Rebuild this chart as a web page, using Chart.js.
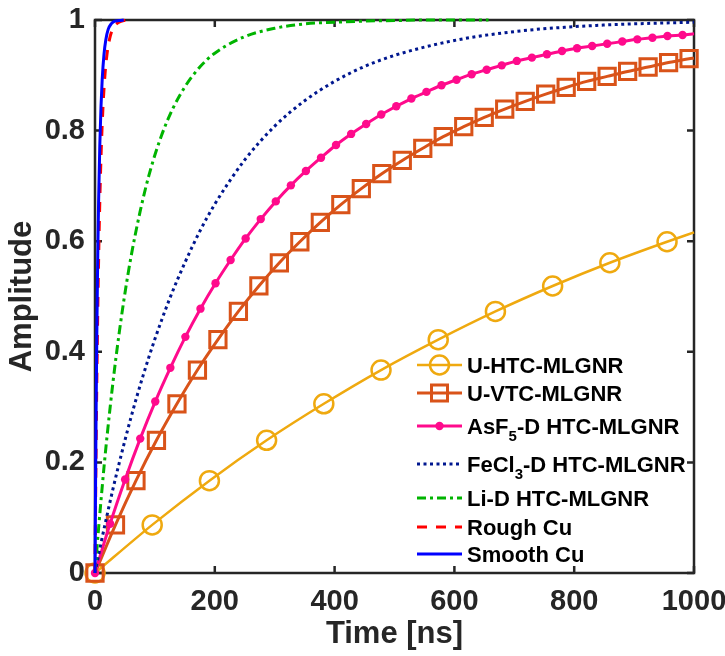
<!DOCTYPE html>
<html>
<head>
<meta charset="utf-8">
<title>Step response amplitude</title>
<script src="https://cdn.jsdelivr.net/npm/chart.js@4.4.1/dist/chart.umd.min.js"></script>
<style>
  html, body { margin: 0; padding: 0; background: #fff; }
  canvas { display: block; }
</style>
</head>
<body>
<canvas id="stepChart" width="725" height="656"></canvas>
<script>
// axis ticks
const xTicks = [0, 200, 400, 600, 800, 1000];
const xTickLabels = ['0', '200', '400', '600', '800', '1000'];
const yTicks = [0, 0.2, 0.4, 0.6, 0.8, 1];
const yTickLabels = ['0', '0.2', '0.4', '0.6', '0.8', '1'];

// U-HTC-MLGNR (circle markers, last point is the line end)
const uhtcTime = [0, 95.5, 191, 286.5, 382, 477.5, 573, 668.5, 764, 859.5, 955, 1000];
const uhtcAmp = [0, 0.087, 0.167, 0.240, 0.306, 0.367, 0.422, 0.473, 0.519, 0.561, 0.599, 0.616];

// U-VTC-MLGNR (square markers)
const uvtcTime = [0, 34.2, 68.4, 102.6, 136.8, 171, 205.2, 239.4, 273.6, 307.8, 342, 376.2, 410.4, 444.6,
  478.8, 513, 547.2, 581.4, 615.6, 649.8, 684, 718.2, 752.4, 786.6, 820.8, 855, 889.2, 923.4, 957.6, 991.8, 1000];
const uvtcAmp = [0, 0.087, 0.167, 0.240, 0.306, 0.367, 0.422, 0.473, 0.519, 0.561, 0.599, 0.634, 0.666, 0.695,
  0.722, 0.746, 0.768, 0.789, 0.807, 0.824, 0.839, 0.853, 0.866, 0.878, 0.889, 0.898, 0.907, 0.915, 0.923, 0.930, 0.931];

// AsF5-D HTC-MLGNR (dot markers)
const asf5Time = [0, 25.2, 50.3, 75.5, 100.6, 125.8, 150.9, 176.1, 201.2, 226.4, 251.5, 276.7, 301.8, 327,
  352.1, 377.3, 402.4, 427.6, 452.7, 477.9, 503, 528.2, 553.3, 578.5, 603.6, 628.8, 653.9, 679.1, 704.2,
  729.4, 754.5, 779.7, 804.8, 830, 855.1, 880.3, 905.4, 930.6, 955.7, 980.9, 1000];
const asf5Amp = [0, 0.089, 0.169, 0.243, 0.310, 0.371, 0.427, 0.478, 0.524, 0.566, 0.605, 0.640, 0.672, 0.701,
  0.727, 0.751, 0.774, 0.794, 0.812, 0.829, 0.844, 0.858, 0.870, 0.882, 0.892, 0.902, 0.910, 0.918, 0.926,
  0.932, 0.938, 0.944, 0.949, 0.953, 0.957, 0.961, 0.965, 0.968, 0.971, 0.973, 0.975];

// FeCl3-D HTC-MLGNR
const fecl3Time = [0, 5, 10, 20, 30, 40, 60, 80, 100, 125, 150, 175, 200, 250, 300, 350, 400, 450, 500, 600, 700, 800, 900, 1000];
const fecl3Amp = [0, 0.027, 0.054, 0.104, 0.152, 0.197, 0.281, 0.356, 0.423, 0.497, 0.561, 0.618, 0.667, 0.747,
  0.808, 0.854, 0.889, 0.916, 0.936, 0.963, 0.979, 0.988, 0.993, 0.996];

// Li-D HTC-MLGNR
const liTime = [0, 3, 6, 10, 15, 20, 30, 40, 50, 60, 75, 90, 110, 130, 150, 175, 200, 250, 300, 350, 400, 450, 500, 550, 600, 657];
const liAmp = [0, 0.041, 0.081, 0.131, 0.191, 0.246, 0.345, 0.431, 0.506, 0.571, 0.652, 0.719, 0.788, 0.840,
  0.879, 0.915, 0.940, 0.970, 0.985, 0.993, 0.996, 0.998, 0.999, 1.0, 1.0, 1.0];

// Rough Cu
const roughTime = [0, 1, 2, 3, 4, 5, 6, 8, 10, 12, 14, 17, 20, 24, 28, 33, 40, 48, 56, 63];
const roughAmp = [0, 0.130, 0.243, 0.341, 0.426, 0.501, 0.565, 0.671, 0.751, 0.811, 0.857, 0.906, 0.938, 0.964,
  0.980, 0.990, 0.996, 0.999, 1.0, 1.0];

// Smooth Cu
const smoothTime = [0, 1, 2, 3, 4, 5, 6, 8, 10, 12, 15, 18, 22, 27, 33, 40, 48];
const smoothAmp = [0, 0.169, 0.310, 0.426, 0.523, 0.604, 0.671, 0.773, 0.843, 0.892, 0.938, 0.964, 0.983,
  0.993, 0.998, 0.999, 1.0];

const FONT = '"Liberation Sans", Arial, Helvetica, sans-serif';
const AXIS_COLOR = '#262626';

function series(times, amps) {
  return times.map((t, i) => ({ x: t, y: amps[i] }));
}

// markers on every point except the final line end
function markerRadius(times, r) {
  return ctx => (ctx.dataIndex === times.length - 1 ? 0 : r);
}

// fixed axis box so the plot area stays put
function pinAxis(size, horizontal) {
  return s => {
    if (horizontal) s.height = size; else s.width = size;
    s.paddingLeft = s.paddingRight = s.paddingTop = s.paddingBottom = 0;
  };
}

Chart.defaults.font.family = FONT;
Chart.defaults.font.weight = 'bold';
Chart.defaults.color = AXIS_COLOR;

const common = {
  fill: false,
  clip: false,
  cubicInterpolationMode: 'monotone',
  pointHoverRadius: 0,
  borderCapStyle: 'butt'
};

const datasets = [
  {
    ...common, label: 'U-HTC-MLGNR', data: series(uhtcTime, uhtcAmp), order: 7,
    borderColor: '#EFA90F', borderWidth: 2.5,
    pointStyle: 'circle', pointRadius: markerRadius(uhtcTime, 9.5), pointBorderWidth: 2.5,
    pointBorderColor: '#EFA90F', pointBackgroundColor: 'rgba(0,0,0,0)',
    mark: { style: 'circle', r: 9.5, w: 2.5 }
  },
  {
    ...common, label: 'U-VTC-MLGNR', data: series(uvtcTime, uvtcAmp), order: 6,
    borderColor: '#D95319', borderWidth: 3,
    pointStyle: 'rect', pointRadius: markerRadius(uvtcTime, 11.5), pointBorderWidth: 3,
    pointBorderColor: '#D95319', pointBackgroundColor: 'rgba(0,0,0,0)',
    mark: { style: 'rect', r: 8, w: 3 }
  },
  {
    ...common, label: 'AsF₅-D HTC-MLGNR', data: series(asf5Time, asf5Amp), order: 5,
    borderColor: '#FF0A8C', borderWidth: 3,
    pointStyle: 'circle', pointRadius: markerRadius(asf5Time, 4.2), pointBorderWidth: 0,
    pointBackgroundColor: '#FF0A8C',
    mark: { style: 'dot', r: 4.2 }
  },
  {
    ...common, label: 'FeCl₃-D HTC-MLGNR', data: series(fecl3Time, fecl3Amp), order: 4,
    borderColor: '#00178F', borderWidth: 3, borderDash: [3, 3.5], pointRadius: 0
  },
  {
    ...common, label: 'Li-D HTC-MLGNR', data: series(liTime, liAmp), order: 3,
    borderColor: '#00B400', borderWidth: 3, borderDash: [9, 4, 3, 4], pointRadius: 0
  },
  {
    ...common, label: 'Rough Cu', data: series(roughTime, roughAmp), order: 2,
    borderColor: '#FF0000', borderWidth: 3, borderDash: [10, 9], pointRadius: 0
  },
  {
    ...common, label: 'Smooth Cu', data: series(smoothTime, smoothAmp), order: 1,
    borderColor: '#0000FF', borderWidth: 3, pointRadius: 0
  }
];

// text with unicode subscript digits drawn as lowered small digits
const SUBS = '₀₁₂₃₄₅₆₇₈₉';
function drawRichLabel(ctx, text, x, baseline) {
  const runs = [];
  for (const ch of text) {
    const s = SUBS.indexOf(ch);
    const sub = s >= 0;
    const c = sub ? String(s) : ch;
    if (runs.length && runs[runs.length - 1].sub === sub) runs[runs.length - 1].text += c;
    else runs.push({ sub, text: c });
  }
  let cx = x;
  runs.forEach(r => {
    ctx.font = r.sub ? `bold 15px ${FONT}` : `bold 22px ${FONT}`;
    ctx.fillText(r.text, cx, r.sub ? baseline + 7 : baseline);
    cx += ctx.measureText(r.text).width;
  });
}

const legendRows = [365, 393, 426, 464, 498, 527, 554];

const framePlugin = {
  id: 'framePlugin',
  // box and inward ticks on all four sides, under the data
  beforeDatasetsDraw(chart) {
    const { ctx, chartArea: a, scales: { x, y } } = chart;
    const len = 7;
    ctx.save();
    ctx.strokeStyle = AXIS_COLOR;
    ctx.lineWidth = 2.5;
    ctx.setLineDash([]);
    ctx.strokeRect(a.left, a.top, a.right - a.left, a.bottom - a.top);
    ctx.beginPath();
    xTicks.forEach(v => {
      const px = x.getPixelForValue(v);
      ctx.moveTo(px, a.bottom); ctx.lineTo(px, a.bottom - len);
      ctx.moveTo(px, a.top); ctx.lineTo(px, a.top + len);
    });
    yTicks.forEach(v => {
      const py = y.getPixelForValue(v);
      ctx.moveTo(a.left, py); ctx.lineTo(a.left + len, py);
      ctx.moveTo(a.right, py); ctx.lineTo(a.right - len, py);
    });
    ctx.stroke();
    ctx.restore();
  },
  // legend inside the plot, no box
  afterDatasetsDraw(chart) {
    const { ctx } = chart;
    const x0 = 417, x1 = 462, tx = 467;
    ctx.save();
    chart.data.datasets.forEach((ds, i) => {
      const yy = legendRows[i];
      ctx.strokeStyle = ds.borderColor;
      ctx.lineWidth = ds.borderWidth;
      ctx.setLineDash(ds.borderDash || []);
      ctx.beginPath();
      ctx.moveTo(x0, yy); ctx.lineTo(x1, yy);
      ctx.stroke();
      ctx.setLineDash([]);
      const m = ds.mark;
      const cx = (x0 + x1) / 2;
      if (m) {
        ctx.beginPath();
        if (m.style === 'circle') {
          ctx.lineWidth = m.w;
          ctx.arc(cx, yy, m.r, 0, Math.PI * 2);
          ctx.stroke();
        } else if (m.style === 'rect') {
          ctx.lineWidth = m.w;
          ctx.rect(cx - m.r, yy - m.r, m.r * 2, m.r * 2);
          ctx.stroke();
        } else {
          ctx.fillStyle = ds.borderColor;
          ctx.arc(cx, yy, m.r, 0, Math.PI * 2);
          ctx.fill();
        }
      }
      ctx.fillStyle = '#000';
      ctx.textBaseline = 'alphabetic';
      ctx.textAlign = 'left';
      drawRichLabel(ctx, ds.label, tx, yy + 8);
    });
    ctx.restore();
  }
};

new Chart(document.getElementById('stepChart'), {
  type: 'line',
  data: { datasets },
  plugins: [framePlugin],
  options: {
    responsive: false,
    animation: false,
    events: [],
    layout: { padding: { top: 20, right: 31, left: 0, bottom: 0 } },
    plugins: { legend: { display: false }, tooltip: { enabled: false } },
    scales: {
      x: {
        type: 'linear', min: 0, max: 1000,
        grid: { display: false },
        border: { display: false },
        afterBuildTicks: s => { s.ticks = xTicks.map(v => ({ value: v })); },
        afterFit: pinAxis(83, true),
        ticks: {
          autoSkip: false, maxRotation: 0, padding: 4,
          font: { size: 29, weight: 'bold' }, color: AXIS_COLOR,
          callback: (v, i) => xTickLabels[i]
        },
        title: {
          display: true, text: 'Time [ns]', color: AXIS_COLOR,
          font: { size: 31, weight: 'bold' }, padding: { top: 0, bottom: 3 }
        }
      },
      y: {
        type: 'linear', min: 0, max: 1,
        grid: { display: false },
        border: { display: false },
        afterBuildTicks: s => { s.ticks = yTicks.map(v => ({ value: v })); },
        afterFit: pinAxis(95, false),
        ticks: {
          autoSkip: false, padding: 2,
          font: { size: 29, weight: 'bold' }, color: AXIS_COLOR,
          callback: (v, i) => yTickLabels[i]
        },
        title: {
          display: true, text: 'Amplitude', color: AXIS_COLOR,
          font: { size: 31, weight: 'bold' }, padding: { top: 4, bottom: 0 }
        }
      }
    }
  }
});
</script>
</body>
</html>
